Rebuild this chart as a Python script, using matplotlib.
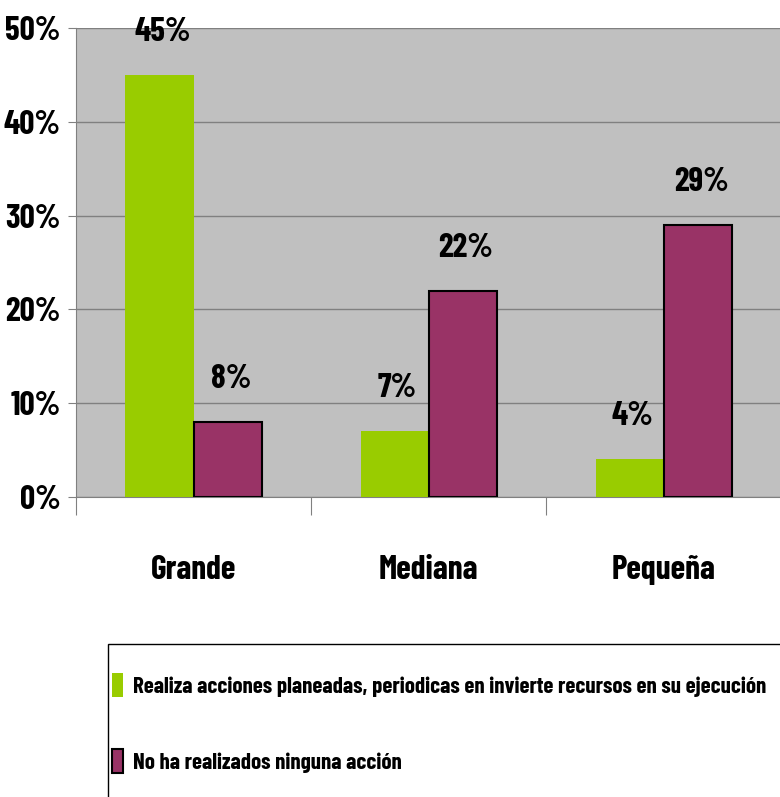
import numpy as np
import matplotlib
matplotlib.use("Agg")
import matplotlib.pyplot as plt
from matplotlib.patches import Patch, Rectangle

# data
categories = ["Grande", "Mediana", "Pequeña"]
realiza = [45, 7, 4]
ninguna = [8, 22, 29]
series_names = ["Realiza acciones planeadas, periodicas en invierte recursos en su ejecución",
                "No ha realizados ninguna acción"]
yticks = [0, 10, 20, 30, 40, 50]

plt.rcParams["font.family"] = ["Barlow Condensed", "DejaVu Sans"]
plt.rcParams["font.weight"] = "bold"

green = "#99CC00"
maroon = "#993366"
fs = 24

fig = plt.figure(figsize=(7.8, 7.97), dpi=100)
ax = fig.add_axes([76/780, 1 - 497/797, 1 - 76/780 + 0.002, (497 - 28)/797])
ax.set_facecolor("#C0C0C0")

x = np.arange(len(categories))
w = 0.29
b1 = ax.bar(x - w/2, realiza, w, color=green, linewidth=0, zorder=3)
b2 = ax.bar(x + w/2, ninguna, w, color=maroon, edgecolor="black", linewidth=1.5, zorder=3)

for bars, vals in [(b1, realiza), (b2, ninguna)]:
  for r, v in zip(bars, vals):
    ax.annotate(f"{v}%", (r.get_x() + r.get_width()/2, v), xytext=(3, 28),
                textcoords="offset pixels", ha="center", va="bottom",
                fontsize=fs, fontweight="bold")

ax.set_ylim(0, 50)
ax.set_xlim(-0.5, 2.5)
ax.set_yticks(yticks)
ax.set_yticklabels([f"{t}%" for t in yticks], fontsize=fs, fontweight="bold")
ax.yaxis.grid(True, color="#808080", linewidth=1, zorder=1)
ax.tick_params(axis="y", length=6, color="#808080", pad=5)

# category boundaries as major ticks, names as minor ticks
ax.set_xticks([-0.5, 0.5, 1.5, 2.5])
ax.set_xticklabels([])
ax.tick_params(axis="x", which="major", length=13, color="#808080")
ax.set_xticks(x, minor=True)
ax.set_xticklabels(categories, minor=True, fontsize=fs, fontweight="bold")
ax.tick_params(axis="x", which="minor", length=0, pad=42)

for s in ["top", "right"]:
  ax.spines[s].set_visible(False)
for s in ["left", "bottom"]:
  ax.spines[s].set_color("#808080")

# legend box, runs past the right and bottom edges like the original
fig.patches.append(Rectangle((108/780, -0.05), 1.0, 1.05 - 644/797, transform=fig.transFigure,
                             facecolor="white", edgecolor="black", linewidth=1, zorder=0))

handles = [Patch(facecolor=green, edgecolor="none"),
           Patch(facecolor=maroon, edgecolor="black", linewidth=1.5)]
leg = fig.legend(handles, series_names, loc="upper left",
                 bbox_to_anchor=(112/780, 1 - 673/797), frameon=False,
                 fontsize=16.5, handlelength=0.48, handleheight=1.25,
                 handletextpad=0.45, labelspacing=2.25, borderpad=0, borderaxespad=0)
for t in leg.get_texts():
  t.set_fontweight("bold")

plt.savefig("out.png", dpi=100)
